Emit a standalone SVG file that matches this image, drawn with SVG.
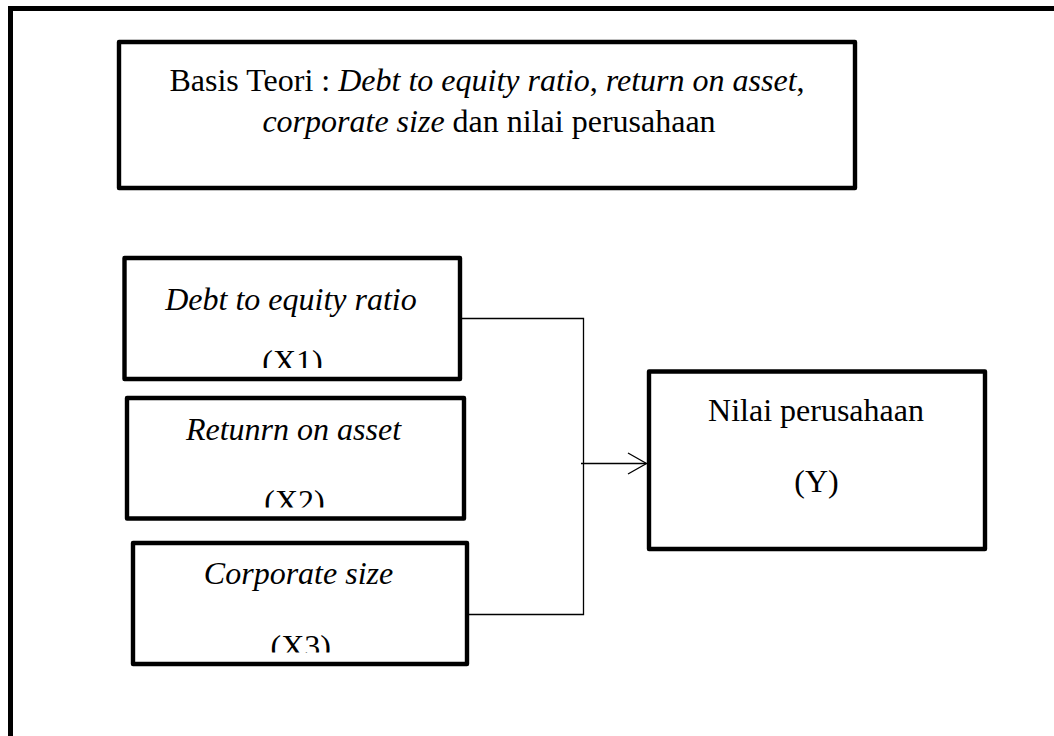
<svg xmlns="http://www.w3.org/2000/svg" width="1054" height="736" viewBox="0 0 1054 736">
<style>
.box{fill:#fff;stroke:#000;stroke-width:4.4;stroke-linejoin:round}
.t{font-family:"Liberation Serif","Times New Roman",serif;font-size:32px;fill:#000}
.i{font-style:italic}
.c{text-anchor:middle}
.conn{fill:none;stroke:#000;stroke-width:1.3}
</style>
<defs>
<clipPath id="c1"><rect x="130" y="300" width="320" height="68"/></clipPath>
<clipPath id="c2"><rect x="130" y="440" width="320" height="67.5"/></clipPath>
<clipPath id="c3"><rect x="136" y="585" width="320" height="67.5"/></clipPath>
</defs>
<rect width="1054" height="736" fill="#fff"/>
<g id="frame"><rect x="10.5" y="8.5" width="1100" height="800" fill="none" stroke="#000" stroke-width="5"/></g>
<g id="basis">
<rect class="box" x="119" y="42" width="736" height="146"/>
<text class="t c" x="487" y="91">Basis Teori : <tspan class="i">Debt to equity ratio</tspan>, <tspan class="i">return on asset</tspan>,</text>
<text class="t c" x="489" y="132"><tspan class="i">corporate size</tspan> dan nilai perusahaan</text>
</g>
<g id="x1">
<rect class="box" x="124.5" y="258" width="335.5" height="121"/>
<text class="t i c" x="291" y="310">Debt to equity ratio</text>
<text class="t c" x="292.5" y="372" clip-path="url(#c1)">(X1)</text>
</g>
<g id="x2">
<rect class="box" x="127" y="398" width="337" height="120.5"/>
<text class="t i c" x="293.5" y="439.5">Retunrn on asset</text>
<text class="t c" x="294.5" y="512" clip-path="url(#c2)">(X2)</text>
</g>
<g id="x3">
<rect class="box" x="133" y="543" width="334" height="121"/>
<text class="t i c" x="298.5" y="583.5">Corporate size</text>
<text class="t c" x="300.8" y="657" clip-path="url(#c3)">(X3)</text>
</g>
<g id="y">
<rect class="box" x="649" y="371.5" width="336" height="177.5"/>
<text class="t c" x="816" y="420.7">Nilai perusahaan</text>
<text class="t c" x="816.5" y="491.7">(Y)</text>
</g>
<g id="connectors">
<polyline class="conn" points="462,318.5 583.5,318.5 583.5,614.5 469,614.5"/>
<line class="conn" x1="581" y1="463.5" x2="646.5" y2="463.5"/>
<polyline class="conn" points="628,453 646.5,463.5 628,474"/>
</g>
</svg>
